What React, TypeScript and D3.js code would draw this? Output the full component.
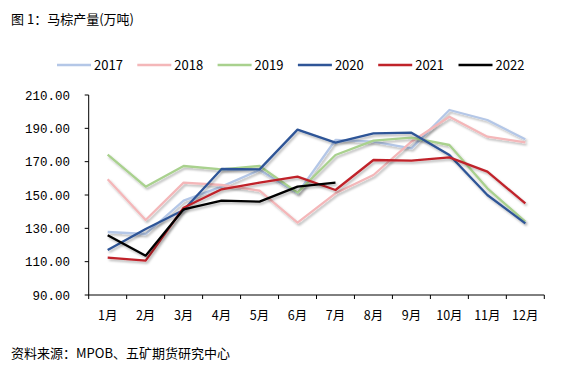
import React from "react";
import * as d3 from "d3";

const months = ["1月","2月","3月","4月","5月","6月","7月","8月","9月","10月","11月","12月"];
const yTicks = [90, 110, 130, 150, 170, 190, 210];
const years = ["2017","2018","2019","2020","2021","2022"];
const colors = ["#b4c7e7","#f4b7b9","#a9d18e","#2f5597","#c0232a","#000000"];
const v2017 = [127.8,126.6,146.6,155,165,151,183,182,178,201,195,183.4];
const v2018 = [159.4,135,157.4,156,152.6,133.4,151,162,182,197,185,181.6];
const v2019 = [174.2,155,167.4,165.4,167.4,151.4,174,182.6,184.4,180,154,134];
const v2020 = [117,129.6,141,165.6,165.4,189.2,181.4,187,187.4,174,150,133];
const v2021 = [112.4,110.6,142.4,153.4,157.4,161,153,171,170.6,172.6,164,145];
const v2022 = [125.8,113.6,141.4,146.6,146,155,157.4];
const series = [v2017, v2018, v2019, v2020, v2021, v2022];

export default function App() {
  const W = 566, H = 373;
  const left = 88.7, right = 544.3, top = 95, bottom = 295;
  const x = d3.scaleBand<string>().domain(months).range([left, right]);
  const y = d3.scaleLinear().domain([90, 210]).range([bottom, top]);
  const line = d3.line<number>()
    .x((_, i) => (x(months[i]) as number) + x.bandwidth() / 2)
    .y((d) => y(d));
  const font = "'Noto Sans CJK SC', 'DejaVu Sans', sans-serif";
  const mono = "'Liberation Mono', 'DejaVu Sans Mono', monospace";
  return (
    <svg width={W} height={H} style={{ position: "absolute", left: 0, top: 0, background: "#fff" }}>
      <defs>
        <filter id="sh" x="-10%" y="-10%" width="120%" height="130%">
          <feDropShadow dx="1.5" dy="2" stdDeviation="1.2" floodColor="#000" floodOpacity="0.28" />
        </filter>
      </defs>
      <rect width={W} height={H} fill="#fff" />
      <text x={11} y={24} fontSize={13} fontFamily={font} fill="#000">图 1：马棕产量(万吨)</text>
      {/* legend */}
      {years.map((yr, i) => {
        const lx = 57 + i * 80.3;
        return (
          <g key={yr}>
            <line x1={lx} x2={lx + 34} y1={65} y2={65} stroke={colors[i]} strokeWidth={2.5} />
            <text x={lx + 37} y={70} fontSize={13} fontFamily={font} fill="#000">{yr}</text>
          </g>
        );
      })}
      {/* y axis */}
      <line x1={left} x2={left} y1={top} y2={bottom} stroke="#000" strokeWidth={1} />
      {yTicks.map((t) => (
        <g key={t}>
          <line x1={left - 4} x2={left} y1={y(t)} y2={y(t)} stroke="#000" />
          <text x={70} y={y(t) + 4.5} textAnchor="end" fontSize={12.5} fontFamily={mono} fill="#000">{t.toFixed(2)}</text>
        </g>
      ))}
      {/* x axis */}
      <line x1={left} x2={right} y1={bottom} y2={bottom} stroke="#000" strokeWidth={1} />
      {months.map((m) => (
        <line key={m} x1={x(m) as number} x2={x(m) as number} y1={bottom} y2={bottom + 4} stroke="#000" />
      ))}
      <line x1={right} x2={right} y1={bottom} y2={bottom + 4} stroke="#000" />
      {months.map((m) => (
        <text key={m} x={(x(m) as number) + x.bandwidth() / 2} y={320} textAnchor="middle" fontSize={12.5} fontFamily={font} fill="#000">{m}</text>
      ))}
      {/* lines */}
      {series.map((s, i) => (
        <path key={i} d={line(s) || ""} fill="none" stroke={colors[i]} strokeWidth={2.3} strokeLinejoin="round" filter="url(#sh)" />
      ))}
      <text x={11} y={358} fontSize={13} fontFamily={font} fill="#000">资料来源：MPOB、五矿期货研究中心</text>
    </svg>
  );
}
